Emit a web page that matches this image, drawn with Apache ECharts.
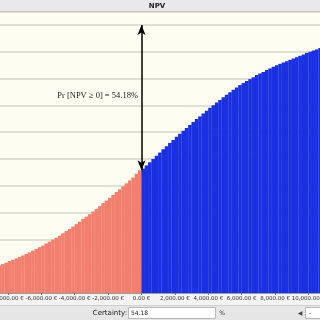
<!DOCTYPE html>
<html>
<head>
<meta charset="utf-8">
<script src="https://cdn.jsdelivr.net/npm/echarts@6/dist/echarts.min.js"></script>
<style>
html,body{margin:0;padding:0;background:#f2f2f2;}
#c{width:320px;height:320px;}
</style>
</head>
<body>
<div id="c"></div>
<script>
// NPV bin centres (€)
var npvBins = [
 -8500,-8300,-8100,-7900,-7700,-7500,-7300,-7100,-6900,-6700,-6500,-6300,-6100,-5900,-5700,-5500,-5300,-5100,
 -4900,-4700,-4500,-4300,-4100,-3900,-3700,-3500,-3300,-3100,-2900,-2700,-2500,-2300,-2100,-1900,-1700,-1500,
 -1300,-1100,-900,-700,-500,-300,-100,
 100,300,500,700,900,1100,1300,1500,1700,1900,2100,2300,2500,2700,2900,3100,3300,3500,3700,3900,
 4100,4300,4500,4700,4900,5100,5300,5500,5700,5900,6100,6300,6500,6700,6900,7100,7300,7500,7700,7900,
 8100,8300,8500,8700,8900,9100,9300,9500,9700,9900,10100,10300,10500,10700
];
// cumulative probability (%)
var cumProb = [
 10.3,10.8,11.3,11.9,12.4,12.9,13.5,14.0,14.6,15.2,15.8,16.4,17.1,17.7,18.5,19.2,19.9,20.6,
 21.4,22.3,23.1,23.9,24.8,25.7,26.6,27.6,28.5,29.4,30.4,31.4,32.4,33.5,34.5,35.5,36.6,37.7,
 38.7,39.8,40.9,42.0,43.1,44.5,45.8,
 46.4,47.6,48.8,50.0,51.2,52.4,53.6,54.8,56.0,57.1,58.3,59.4,60.5,61.6,62.7,63.8,64.9,65.9,67.0,68.0,
 69.1,70.1,71.1,72.0,73.0,74.0,74.9,75.8,76.7,77.6,78.4,79.1,79.8,80.5,81.3,81.9,82.5,83.2,83.8,84.4,
 85.0,85.5,86.0,86.5,87.0,87.5,88.0,88.5,89.0,89.6,90.0,90.5,90.9,91.4
];
var xTickValues = [-8000,-6000,-4000,-2000,0,2000,4000,6000,8000,10000];
var threshold = 0;
var certainty = 54.18;
var chartTitle = 'NPV';

function fmtEuro(v){
  var neg = v < 0; v = Math.abs(v);
  var s = Math.round(v).toString().replace(/\B(?=(\d{3})+(?!\d))/g, ',');
  return (neg ? '-' : '') + s + '.00 €';
}

var data = npvBins.map(function(x,i){ return [x, cumProb[i]]; });

var chart = echarts.init(document.getElementById('c'), null, {renderer:'canvas'});
chart.setOption({
  animation:false,
  backgroundColor:'#f3f3f3',
  grid:{left:0,right:0,top:12,bottom:27,show:true,backgroundColor:'#fefdf2',borderWidth:0,outerBoundsMode:'none'},
  xAxis:{
    type:'value', min:-8473, max:10689, splitNumber:10,
    axisLine:{show:true,lineStyle:{color:'#9a9a9a',width:1}},
    axisTick:{show:true,length:2,lineStyle:{color:'#777'},customValues:xTickValues},
    axisLabel:{fontSize:5.5,color:'#333',margin:3,fontFamily:'DejaVu Sans',
      customValues:xTickValues, formatter:function(v){return fmtEuro(v);}},
    splitLine:{show:false}
  },
  yAxis:{
    type:'value', min:0, max:104.85, interval:10,
    axisLine:{show:false}, axisTick:{show:false}, axisLabel:{show:false},
    splitLine:{show:true,lineStyle:{color:'#d7d5cc',width:1.5}}
  },
  series:[{
    type:'bar',
    data:data,
    barWidth:3.6,
    itemStyle:{
      color:function(p){ return p.value[0] < threshold ? '#f3806f' : '#1b30e0'; },
      borderWidth:0
    },
    markLine:{
      silent:true,
      symbol:['arrow','arrow'],
      symbolSize:[6,10],
      label:{show:false},
      lineStyle:{color:'#000',width:1.5,type:'solid'},
      data:[[{coord:[threshold,100]},{coord:[threshold,100-certainty]}]]
    },
    markPoint:{
      silent:true,
      symbol:'circle', symbolSize:1,
      itemStyle:{color:'rgba(0,0,0,0)'},
      label:{show:true,position:'left',distance:3,
        formatter:'Pr [NPV ≥ 0] = ' + certainty.toFixed(2) + '%',
        fontFamily:'Liberation Serif',fontSize:8.5,color:'#222'},
      data:[{coord:[threshold,73.5]}]
    }
  }],
  graphic:[
    {type:'rect',shape:{x:0,y:0,width:320,height:11},style:{fill:'#e9e9ec'},z:10},
    {type:'line',shape:{x1:0,y1:11.5,x2:320,y2:11.5},style:{stroke:'#c4c4c4',lineWidth:1},z:10},
    {type:'text',x:157,y:6,style:{text:chartTitle,font:'bold 7px DejaVu Sans',fill:'#222',align:'center',verticalAlign:'middle'},z:11},
    {type:'rect',shape:{x:0,y:305,width:320,height:15},style:{fill:'#e6e6e6'},z:10},
    {type:'line',shape:{x1:0,y1:305.5,x2:320,y2:305.5},style:{stroke:'#cfcfcf',lineWidth:1},z:10},
    {type:'text',x:127,y:313,style:{text:'Certainty:',font:'7px DejaVu Sans',fill:'#222',align:'right',verticalAlign:'middle'},z:11},
    {type:'rect',shape:{x:128.5,y:307.5,width:87,height:11},style:{fill:'#ffffff',stroke:'#b8b8b8',lineWidth:1},z:11},
    {type:'text',x:131,y:313,style:{text:certainty.toFixed(2),font:'6px DejaVu Sans',fill:'#222',align:'left',verticalAlign:'middle'},z:12},
    {type:'text',x:222,y:313,style:{text:'%',font:'6px DejaVu Sans',fill:'#333',align:'center',verticalAlign:'middle'},z:11},
    {type:'text',x:300,y:313,style:{text:'◀',font:'6px DejaVu Sans',fill:'#444',align:'center',verticalAlign:'middle'},z:11},
    {type:'rect',shape:{x:305.5,y:307.5,width:20,height:11},style:{fill:'#ffffff',stroke:'#b8b8b8',lineWidth:1},z:11},
    {type:'text',x:309,y:313,style:{text:'-',font:'6px DejaVu Sans',fill:'#333',align:'left',verticalAlign:'middle'},z:12}
  ]
});
</script>
</body>
</html>
